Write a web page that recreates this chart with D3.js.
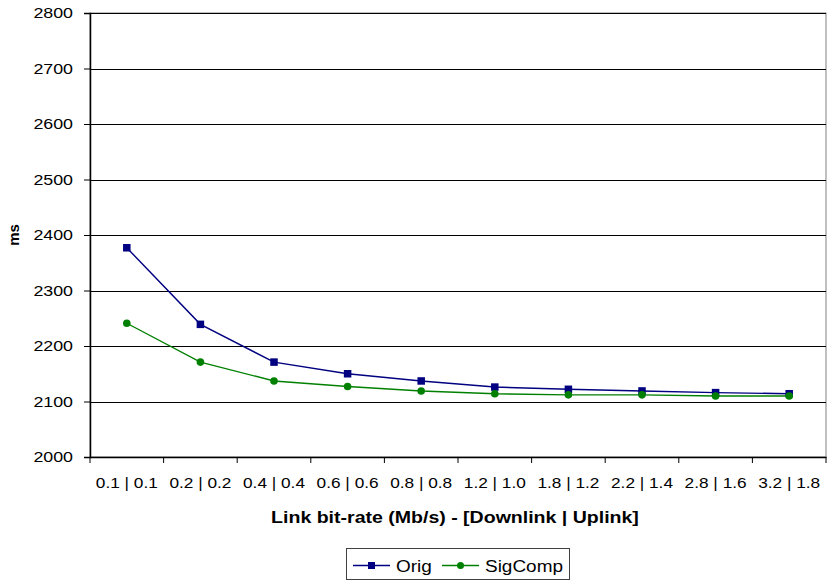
<!DOCTYPE html>
<html>
<head>
<meta charset="utf-8">
<script src="https://cdn.jsdelivr.net/npm/d3@7"></script>
<style>
  body { margin: 0; background: #fff; }
  svg { display: block; font-family: "Liberation Sans", Arial, sans-serif; }
</style>
</head>
<body>
<svg id="chart" width="830" height="581"></svg>
<script>
const categories = ["0.1 | 0.1","0.2 | 0.2","0.4 | 0.4","0.6 | 0.6","0.8 | 0.8","1.2 | 1.0","1.8 | 1.2","2.2 | 1.4","2.8 | 1.6","3.2 | 1.8"];
const origValues = [2377, 2239, 2171, 2150, 2137, 2126, 2122, 2119, 2116, 2114];
const sigCompValues = [2241, 2171, 2137, 2127, 2119, 2114, 2112, 2112, 2110, 2110];
const yTicks = [2000, 2100, 2200, 2300, 2400, 2500, 2600, 2700, 2800];
const seriesNames = ["Orig", "SigComp"];
const xTitle = "Link bit-rate (Mb/s) - [Downlink | Uplink]";
const yTitle = "ms";

const sx = 1.15; // horizontal text stretch of the reference
const svg = d3.select("#chart");
const L = 90, R = 826, T = 13, B = 457;

const x = d3.scaleBand().domain(categories).range([L, R]).padding(0);
const y = d3.scaleLinear().domain([2000, 2800]).range([B, T]);

// plot border (gray)
svg.append("rect").attr("x", L).attr("y", T).attr("width", R - L).attr("height", B - T)
  .attr("fill", "none").attr("stroke", "#808080").attr("stroke-width", 1);

// gridlines
svg.append("g").selectAll("line").data(yTicks).join("line")
  .attr("x1", L).attr("x2", R)
  .attr("y1", d => Math.round(y(d)) + 0.5).attr("y2", d => Math.round(y(d)) + 0.5)
  .attr("stroke", "#000").attr("stroke-width", 1);

// y axis
const gy = svg.append("g").attr("transform", `translate(${L},0)`)
  .call(d3.axisLeft(y).tickValues(yTicks).tickSize(6).tickPadding(11).tickFormat(d3.format("d")));
gy.select(".domain").attr("stroke", "#000").attr("stroke-width", 1.5);
gy.selectAll(".tick line").attr("stroke", "#000");
gy.selectAll(".tick text")
  .attr("font-family", "'Liberation Sans', Arial, sans-serif")
  .attr("font-size", 15.5).attr("fill", "#000")
  .attr("x", -17 / sx).attr("transform", `scale(${sx},1)`);

// x axis
const gx = svg.append("g").attr("transform", `translate(0,${B})`)
  .call(d3.axisBottom(x).tickSize(0).tickPadding(0));
gx.select(".domain").attr("stroke", "#000").attr("stroke-width", 1.5);
gx.selectAll(".tick text")
  .attr("font-family", "'Liberation Sans', Arial, sans-serif")
  .attr("font-size", 15).attr("fill", "#000")
  .attr("y", 31).attr("dy", 0)
  .attr("transform", `scale(${sx},1)`);
// tick marks at band edges
const edges = categories.map(c => x(c)).concat([x.range()[1]]);
svg.append("g").selectAll("line").data(edges).join("line")
  .attr("x1", d => d).attr("x2", d => d)
  .attr("y1", B).attr("y2", B + 6)
  .attr("stroke", "#000").attr("stroke-width", 1);

// titles
svg.append("text").attr("transform", `translate(455,523) scale(${sx},1)`)
  .attr("text-anchor", "middle").attr("font-weight", "bold").attr("font-size", 17)
  .text(xTitle);
svg.append("text").attr("transform", "translate(19,235) rotate(-90)")
  .attr("text-anchor", "middle").attr("font-weight", "bold").attr("font-size", 15)
  .text(yTitle);

// series
const colors = ["#000080", "#008000"];
const series = [origValues, sigCompValues];
const line = d3.line().x((d, i) => x(categories[i]) + x.bandwidth() / 2).y(d => y(d));

series.forEach((vals, s) => {
  svg.append("path").datum(vals).attr("d", line)
    .attr("fill", "none").attr("stroke", colors[s]).attr("stroke-width", 1.4);
});
// Orig squares
svg.append("g").selectAll("rect").data(origValues).join("rect")
  .attr("x", (d, i) => x(categories[i]) + x.bandwidth() / 2 - 3.75)
  .attr("y", d => y(d) - 3.75)
  .attr("width", 7.5).attr("height", 7.5)
  .attr("fill", colors[0]);
// SigComp circles
svg.append("g").selectAll("circle").data(sigCompValues).join("circle")
  .attr("cx", (d, i) => x(categories[i]) + x.bandwidth() / 2)
  .attr("cy", d => y(d))
  .attr("r", 3.8)
  .attr("fill", colors[1]);

// legend
const lg = svg.append("g");
lg.append("rect").attr("x", 346.5).attr("y", 548.5).attr("width", 223).attr("height", 31)
  .attr("fill", "#fff").attr("stroke", "#404040").attr("stroke-width", 1);
const ly = 565.5;
const items = [
  { name: seriesNames[0], x0: 353, x1: 390, tx: 396, c: colors[0], shape: "square" },
  { name: seriesNames[1], x0: 442, x1: 479, tx: 485, c: colors[1], shape: "circle" }
];
items.forEach(it => {
  lg.append("line").attr("x1", it.x0).attr("x2", it.x1).attr("y1", ly).attr("y2", ly)
    .attr("stroke", it.c).attr("stroke-width", 1.4);
  const mx = (it.x0 + it.x1) / 2;
  if (it.shape === "square") {
    lg.append("rect").attr("x", mx - 3.5).attr("y", ly - 3.5).attr("width", 7).attr("height", 7).attr("fill", it.c);
  } else {
    lg.append("circle").attr("cx", mx).attr("cy", ly).attr("r", 3.5).attr("fill", it.c);
  }
  lg.append("text").attr("transform", `translate(${it.tx},571.5) scale(${sx},1)`)
    .attr("font-size", 16.5).attr("fill", "#000").text(it.name);
});
</script>
</body>
</html>
